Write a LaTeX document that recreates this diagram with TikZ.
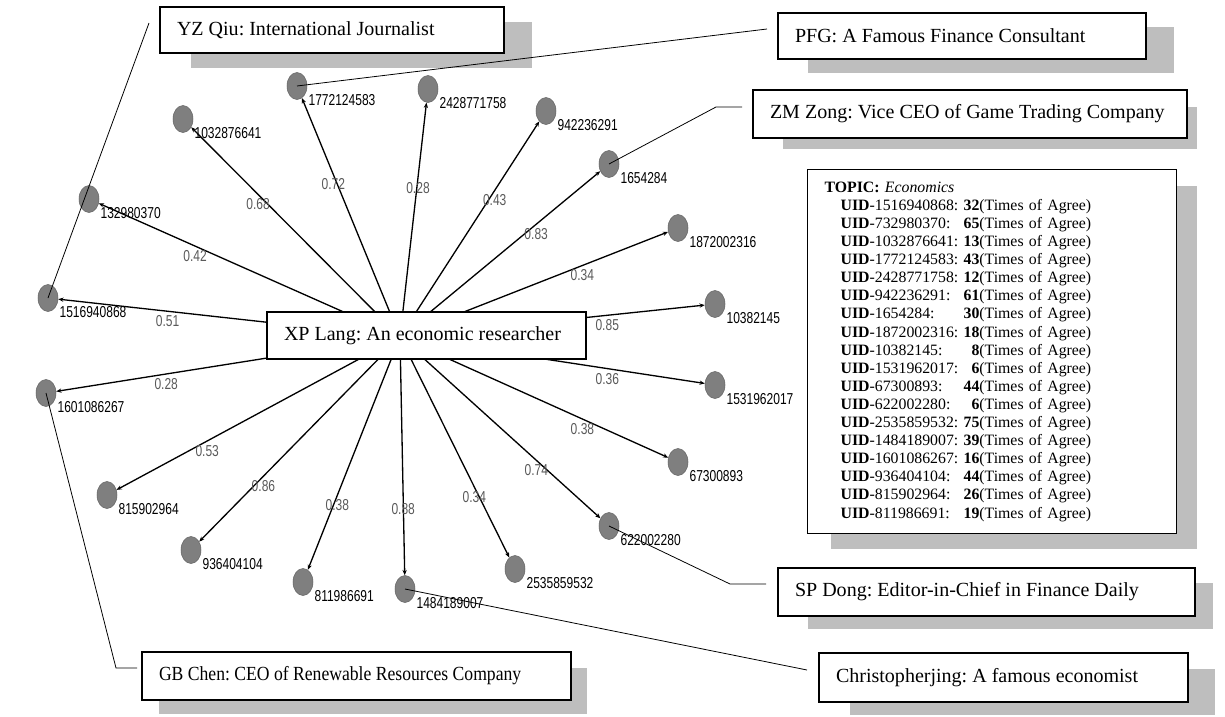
\documentclass[tikz,border=0pt]{standalone}
\usepackage{fontspec}
\setmainfont{Liberation Serif}
\newfontfamily\narrowsans[FakeStretch=0.76]{Liberation Sans}
\newfontfamily\narrowserif[FakeStretch=0.88]{Liberation Serif}
\usetikzlibrary{shapes.geometric,arrows.meta}
\newlength{\px}\setlength{\px}{0.02cm}
\definecolor{leafgray}{HTML}{7F7F7F}
\definecolor{shadegray}{HTML}{BEBEBE}
\definecolor{wgray}{HTML}{5A5A5A}
\newcommand{\uidrow}[2]{\textbf{UID}-#1: & \textbf{#2} & (Times of Agree)\\}
\newcommand{\nameline}[2]{\makebox[#1\px][l]{#2}}

\begin{document}
\frenchspacing
\begin{tikzpicture}[x=0.02cm, y=-0.02cm,
    leaf/.style={draw=leafgray!80!black, fill=leafgray, ellipse, minimum width=20\px, minimum height=27\px, inner sep=0pt, line width=0.3pt},
    leaflab/.style={font=\narrowsans\fontsize{9}{10}\selectfont, inner sep=0pt, label distance=0pt, xshift=3\px},
    wlab/.style={pos=0.68, yshift=-10\px, font=\narrowsans\fontsize{9}{10}\selectfont, text=wgray, inner sep=0pt},
    tie/.style={line width=0.75pt, -{Stealth[length=3pt, width=2.4pt]}},
    callout/.style={line width=0.45pt},
    namebox/.style={draw, fill=white, line width=0.7pt, inner xsep=17\px, inner ysep=0pt, font=\fontsize{11.4}{13}\selectfont},
    boxshadow/.style={fill=shadegray}]
    \fill[white] (0,0) rectangle (1225,717);
    % shadows
    \fill[boxshadow] (191,22) rectangle (532,68);
    \fill[boxshadow] (808,27) rectangle (1174,73);
    \fill[boxshadow] (783,107) rectangle (1197,149);
    \fill[boxshadow] (808,583) rectangle (1213,629);
    \fill[boxshadow] (850,669) rectangle (1215,715);
    \fill[boxshadow] (159,668) rectangle (587,714);
    \fill[boxshadow] (831,186) rectangle (1197,549);
    % people
    \node[namebox, minimum height=46\px] (yz) at (332,30) {\nameline{310}{YZ Qiu: International Journalist}};
    \node[namebox, minimum height=46\px] (pfg) at (962,36) {\nameline{334}{PFG: A Famous Finance Consultant}};
    \node[namebox, minimum height=48\px] (zm) at (970,114) {\nameline{400}{ZM Zong: Vice CEO of Game Trading Company}};
    \node[namebox, minimum height=48\px] (sp) at (986.5,592) {\nameline{383}{SP Dong: Editor-in-Chief in Finance Daily}};
    \node[namebox, minimum height=49\px] (chr) at (1003.5,677.5) {\nameline{335}{Christopherjing: A famous economist}};
    \node[namebox, minimum height=48\px, font=\narrowserif\fontsize{11.4}{13}\selectfont] (gb) at (356.5,676) {\nameline{395}{GB Chen: CEO of Renewable Resources Company}};
    % topic box
    \node[draw, fill=white, line width=0.7pt, anchor=north west, inner xsep=17\px, inner ysep=10\px, text width=335\px, font=\fontsize{9}{10.3}\selectfont] (topic) at (807,169) {%
        \begin{tabular}{@{\hspace{16\px}}l@{\ }r@{}l@{}}
            \multicolumn{3}{@{}l@{}}{\textbf{TOPIC:} \textit{Economics}}\\
            \uidrow{1516940868}{32}
            \uidrow{732980370}{65}
            \uidrow{1032876641}{13}
            \uidrow{1772124583}{43}
            \uidrow{2428771758}{12}
            \uidrow{942236291}{61}
            \uidrow{1654284}{30}
            \uidrow{1872002316}{18}
            \uidrow{10382145}{8}
            \uidrow{1531962017}{6}
            \uidrow{67300893}{44}
            \uidrow{622002280}{6}
            \uidrow{2535859532}{75}
            \uidrow{1484189007}{39}
            \uidrow{1601086267}{16}
            \uidrow{936404104}{44}
            \uidrow{815902964}{26}
            \uidrow{811986691}{19}
        \end{tabular}};
    % users
    \node[leaf, label={[leaflab]below right:1516940868}] (u1516940868) at (48,298) {};
    \node[leaf, label={[leaflab]below right:132980370}] (u132980370) at (89,199) {};
    \node[leaf, label={[leaflab]below right:1032876641}] (u1032876641) at (183,119) {};
    \node[leaf, label={[leaflab]below right:1772124583}] (u1772124583) at (297,86) {};
    \node[leaf, label={[leaflab]below right:2428771758}] (u2428771758) at (428,89) {};
    \node[leaf, label={[leaflab]below right:942236291}] (u942236291) at (546,111) {};
    \node[leaf, label={[leaflab]below right:1654284}] (u1654284) at (609,164) {};
    \node[leaf, label={[leaflab]below right:1872002316}] (u1872002316) at (678,228) {};
    \node[leaf, label={[leaflab]below right:10382145}] (u10382145) at (715,304) {};
    \node[leaf, label={[leaflab]below right:1531962017}] (u1531962017) at (715,385) {};
    \node[leaf, label={[leaflab]below right:67300893}] (u67300893) at (678,462) {};
    \node[leaf, label={[leaflab]below right:622002280}] (u622002280) at (609,526) {};
    \node[leaf, label={[leaflab]below right:2535859532}] (u2535859532) at (515,569) {};
    \node[leaf, label={[leaflab]below right:1484189007}] (u1484189007) at (405,589) {};
    \node[leaf, label={[leaflab]below right:811986691}] (u811986691) at (303,582) {};
    \node[leaf, label={[leaflab]below right:936404104}] (u936404104) at (191,550) {};
    \node[leaf, label={[leaflab]below right:815902964}] (u815902964) at (107,495) {};
    \node[leaf, label={[leaflab]below right:1601086267}] (u1601086267) at (46,393) {};
    % agreement links
    \coordinate (hub) at (400,337);
    \draw[tie] (hub) -- (u1516940868) node[wlab] {0.51};
    \draw[tie] (hub) -- (u132980370) node[wlab] {0.42};
    \draw[tie] (hub) -- (u1032876641) node[wlab] {0.68};
    \draw[tie] (hub) -- (u1772124583) node[wlab] {0.72};
    \draw[tie] (hub) -- (u2428771758) node[wlab] {0.28};
    \draw[tie] (hub) -- (u942236291) node[wlab] {0.43};
    \draw[tie] (hub) -- (u1654284) node[wlab] {0.83};
    \draw[tie] (hub) -- (u1872002316) node[wlab] {0.34};
    \draw[tie] (hub) -- (u10382145) node[wlab] {0.85};
    \draw[tie] (hub) -- (u1531962017) node[wlab] {0.36};
    \draw[tie] (hub) -- (u67300893) node[wlab] {0.38};
    \draw[tie] (hub) -- (u622002280) node[wlab] {0.74};
    \draw[tie] (hub) -- (u2535859532) node[wlab] {0.34};
    \draw[tie] (hub) -- (u1484189007) node[wlab] {0.88};
    \draw[tie] (hub) -- (u811986691) node[wlab] {0.38};
    \draw[tie] (hub) -- (u936404104) node[wlab] {0.86};
    \draw[tie] (hub) -- (u815902964) node[wlab] {0.53};
    \draw[tie] (hub) -- (u1601086267) node[wlab] {0.28};
    \node[namebox, minimum height=47\px] (lang) at (426.5,335.5) {\nameline{285}{XP Lang: An economic researcher}};
    % callouts
    \coordinate (yzend) at (149,23);
    \coordinate (pfgend) at (767,29);
    \coordinate (zmbend) at (716,107);
    \coordinate (zmend) at (742,107);
    \coordinate (spbend) at (730,584);
    \coordinate (spend) at (766,584);
    \coordinate (chrend) at (807,670);
    \coordinate (gbbend) at (116,668);
    \coordinate (gbend) at (137,668);
    \draw[callout] (u1516940868.center) -- (yzend);
    \draw[callout] (u1772124583.center) -- (pfgend);
    \draw[callout] (u1654284.center) -- (zmbend) -- (zmend);
    \draw[callout] (u622002280.center) -- (spbend) -- (spend);
    \draw[callout] (u1484189007.center) -- (chrend);
    \draw[callout] (u1601086267.center) -- (gbbend) -- (gbend);
\end{tikzpicture}
\end{document}
